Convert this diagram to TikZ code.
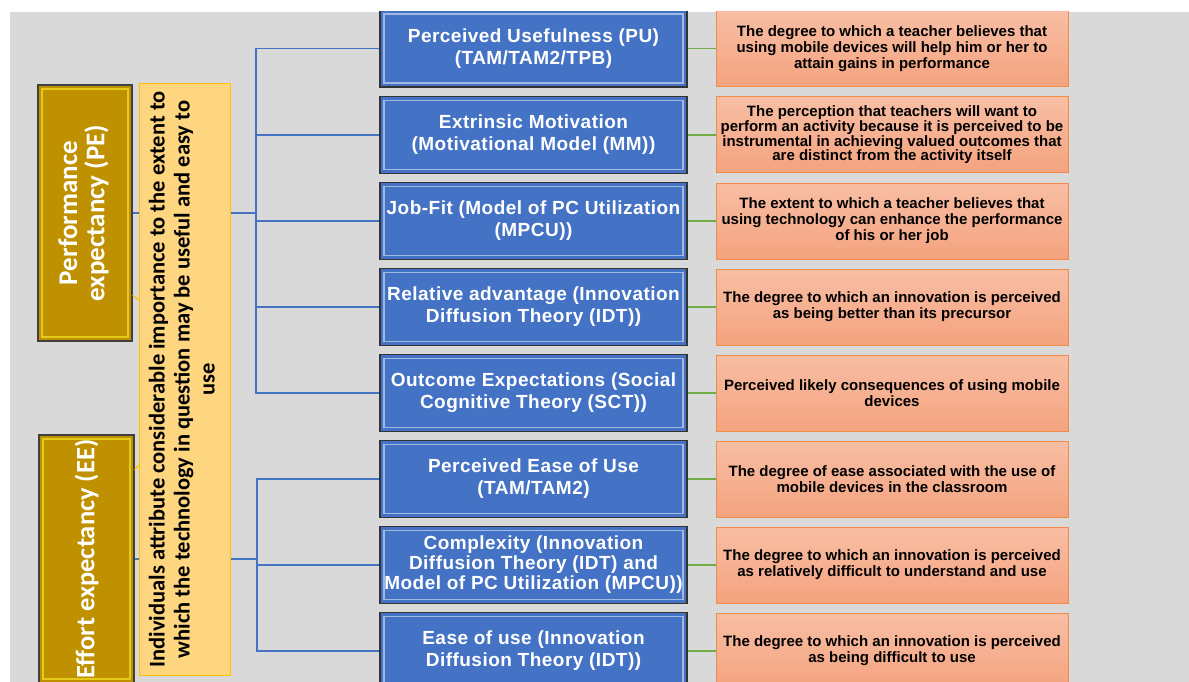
\documentclass[tikz,border=0pt]{standalone}
\usepackage{fontspec}
\setmainfont{Liberation Sans}
\newfontfamily\califont{Carlito}
\newfontfamily\modelfont[LetterSpace=2.5]{Liberation Sans}
\usetikzlibrary{positioning}
\definecolor{bgray}{HTML}{D9D9D9}
\definecolor{modelblue}{HTML}{4472C4}
\definecolor{gold}{HTML}{BF9000}
\definecolor{noteyellow}{HTML}{FFD680}
\definecolor{noteedge}{HTML}{FFC000}
\definecolor{peachtop}{HTML}{F8BEA4}
\definecolor{peachbot}{HTML}{F4A37F}
\definecolor{peachedge}{HTML}{F08B48}
\definecolor{linkgreen}{HTML}{70AD47}
\begin{document}
\begin{tikzpicture}[x=1pt, y=-1pt,
    bevel/.style={path picture={\draw[#1, line width=1.4pt]
        ([shift={(4pt,-4pt)}]path picture bounding box.north west) rectangle
        ([shift={(-4pt,4pt)}]path picture bounding box.south east);}},
    construct/.style={draw=black!75, line width=1.2pt, fill=gold, text=white,
        inner sep=0pt, bevel=yellow!55!gold,
        font=\califont\bfseries\fontsize{27}{24}\selectfont},
    note/.style={draw=noteedge, line width=1pt, fill=noteyellow, inner sep=0pt,
        minimum width=91, minimum height=591,
        font=\califont\bfseries\fontsize{22.5}{25}\selectfont},
    model/.style={draw=black!80, line width=1.2pt, fill=modelblue, text=white,
        minimum width=307, minimum height=77, inner sep=0pt, align=center,
        bevel=modelblue!50!white, font=\modelfont\bfseries\fontsize{19}{22}\selectfont},
    meaning/.style={draw=peachedge, line width=1pt, top color=peachtop,
        bottom color=peachbot, minimum width=352, minimum height=76,
        inner sep=0pt, align=center, font=\bfseries\fontsize{15}{16}\selectfont},
    link/.style={modelblue, line width=1.3pt},
    glink/.style={linkgreen, line width=1.3pt},
    tail/.style={noteedge, line width=1.2pt}]

    % Background
    \useasboundingbox (0,0) rectangle (1189,682);
    \fill[bgray] (10,12) rectangle (1189,682);

    \begin{scope}
    \clip (10,12) rectangle (1189,682);

    % The two constructs
    \node[construct, minimum width=94, minimum height=256] (pe) at (85,213)
        {\rotatebox{90}{\begin{tabular}{@{}c@{}}Performance\\expectancy (PE)\end{tabular}}};
    \node[construct, minimum width=95, minimum height=248] (ee) at (86.5,559)
        {\rotatebox{90}{\fontsize{26.5}{26}\selectfont Effort expectancy (EE)}};

    % Root models
    \node[model] (pu) at (533.5,48.5) {Perceived Usefulness (PU)\\(TAM/TAM2/TPB)};
    \node[model] (em) at (533.5,135) {Extrinsic Motivation\\(Motivational Model (MM))};
    \node[model] (jf) at (533.5,221) {Job-Fit (Model of PC Utilization\\(MPCU))};
    \node[model] (ra) at (533.5,307) {Relative advantage (Innovation\\Diffusion Theory (IDT))};
    \node[model] (oe) at (533.5,393) {Outcome Expectations (Social\\Cognitive Theory (SCT))};
    \node[model] (peou) at (533.5,479) {Perceived Ease of Use\\(TAM/TAM2)};
    \node[model, font=\modelfont\bfseries\fontsize{19}{20}\selectfont] (cx) at (533.5,565)
        {Complexity (Innovation\\Diffusion Theory (IDT) and\\Model of PC Utilization (MPCU))};
    \node[model] (eou) at (533.5,651) {Ease of use (Innovation\\Diffusion Theory (IDT))};

    % Definitions
    \node[meaning] (dpu) at (892,48.5) {The degree to which a teacher believes that\\using mobile devices  will help him or her to\\attain gains in performance};
    \node[meaning, font=\bfseries\fontsize{15}{14.7}\selectfont] (dem) at (892,135) {The perception that teachers will want to\\perform an activity because it is perceived to be\\instrumental in achieving valued outcomes that\\are distinct from the activity itself};
    \node[meaning] (djf) at (892,221) {The extent to which a teacher believes that\\using technology can enhance the performance\\of his or her job};
    \node[meaning] (dra) at (892,307) {The degree to which an innovation is perceived\\as being better than its precursor};
    \node[meaning] (doe) at (892,393) {Perceived likely  consequences of using mobile\\devices};
    \node[meaning] (dpeou) at (892,479) {The degree of ease associated with the use of\\mobile devices in the classroom};
    \node[meaning] (dcx) at (892,565) {The degree to which an innovation is perceived\\as relatively difficult to understand and use};
    \node[meaning] (deou) at (892,651) {The degree to which an innovation is perceived\\as being difficult to use};

    % Tree links
    \coordinate (pej) at (256,213);
    \coordinate (eej) at (257,559);
    \draw[link] (pe.east) -- (pej) |- (pu.west);
    \draw[link] (pej) |- (em.west);
    \draw[link] (pej) |- (jf.west);
    \draw[link] (pej) |- (ra.west);
    \draw[link] (pej) |- (oe.west);
    \draw[link] (ee.east) -- (eej) |- (peou.west);
    \draw[link] (eej) |- (cx.west);
    \draw[link] (eej) |- (eou.west);

    % Model to definition
    \draw[glink] (pu.east) -- (dpu.west);
    \draw[glink] (em.east) -- (dem.west);
    \draw[glink] (jf.east) -- (djf.west);
    \draw[glink] (ra.east) -- (dra.west);
    \draw[glink] (oe.east) -- (doe.west);
    \draw[glink] (peou.east) -- (dpeou.west);
    \draw[glink] (cx.east) -- (dcx.west);
    \draw[glink] (eou.east) -- (deou.west);

    % The callout note
    \node[note] (note) at (184.5,379.5)
        {\rotatebox{90}{\begin{tabular}{@{}c@{}}Individuals attribute considerable importance to the extent to\\which the technology in question may be useful and easy to\\use\end{tabular}}};
    \draw[tail] (pe.east |- 0,295) -- (note.west |- 0,300);
    \draw[tail] (ee.east |- 0,470) -- (note.west |- 0,465);
    \end{scope}
\end{tikzpicture}
\end{document}
